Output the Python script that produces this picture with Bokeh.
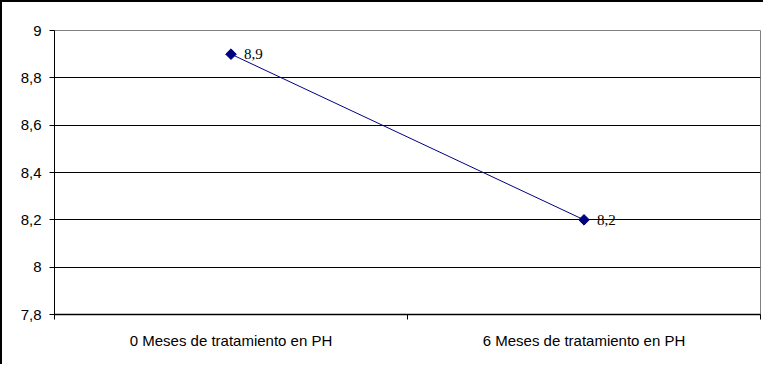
import math
from bokeh.plotting import figure
from bokeh.models import FixedTicker, Range1d, LabelSet, ColumnDataSource
from bokeh.embed import file_html
from bokeh.resources import INLINE

categories = ["0 Meses de tratamiento en PH", "6 Meses de tratamiento en PH"]
ph_values = [8.9, 8.2]
value_labels = ["8,9", "8,2"]
y_ticks = [7.8, 8.0, 8.2, 8.4, 8.6, 8.8, 9.0]
y_tick_labels = ["7,8", "8", "8,2", "8,4", "8,6", "8,8", "9"]

FONT = "Liberation Sans"
FS = "15px"

xs = [i + 0.5 for i in range(len(categories))]
boundaries = list(range(len(categories) + 1))

p = figure(width=763, height=364, output_backend="svg", toolbar_location=None,
           x_range=Range1d(0, len(categories)), y_range=Range1d(y_ticks[0], y_ticks[-1]),
           min_border_left=52, min_border_top=28, min_border_right=5, min_border_bottom=52)
p.styles = {"border-left": "2px solid black", "border-top": "2px solid black"}
p.background_fill_color = "white"
p.border_fill_color = "white"
p.outline_line_color = "#808080"
p.outline_line_width = 1

# grid
p.xgrid.visible = False
p.ygrid.ticker = FixedTicker(ticks=y_ticks[:-1])
p.ygrid.grid_line_color = "black"
p.ygrid.grid_line_width = 1

# y axis
p.yaxis.ticker = FixedTicker(ticks=y_ticks)
p.yaxis.major_label_overrides = {t: l for t, l in zip(y_ticks, y_tick_labels)}
p.yaxis.major_label_text_font = FONT
p.yaxis.major_label_text_font_size = FS
p.yaxis.major_label_text_color = "black"
p.yaxis.major_tick_in = 0
p.yaxis.major_tick_out = 5
p.yaxis.minor_tick_line_color = None
p.yaxis.axis_line_color = "black"
p.yaxis.major_tick_line_color = "black"
p.yaxis.major_label_standoff = 8

# x axis
p.xaxis.ticker = FixedTicker(ticks=xs, minor_ticks=boundaries)
p.xaxis.major_label_overrides = {x: c for x, c in zip(xs, categories)}
p.xaxis.major_label_text_font = FONT
p.xaxis.major_label_text_font_size = FS
p.xaxis.major_label_text_color = "black"
p.xaxis.major_tick_in = 0
p.xaxis.major_tick_out = 0
p.xaxis.major_tick_line_color = None
p.xaxis.minor_tick_in = 0
p.xaxis.minor_tick_out = 5
p.xaxis.minor_tick_line_color = "black"
p.xaxis.axis_line_color = "black"
p.xaxis.axis_line_width = 1.5
p.xaxis.major_label_standoff = 12

src = ColumnDataSource(dict(x=xs, y=ph_values, lab=value_labels))
p.line("x", "y", source=src, line_color="#000080", line_width=1)
p.scatter("x", "y", source=src, marker="square", size=7.5, angle=math.pi / 4,
          fill_color="#000080", line_color="#000080")
p.add_layout(LabelSet(x="x", y="y", text="lab", source=src, x_offset=13, y_offset=0,
                      text_baseline="middle", text_font=FONT, text_font_size=FS, text_color="black"))

open("out.html", "w").write(file_html(p, INLINE))
